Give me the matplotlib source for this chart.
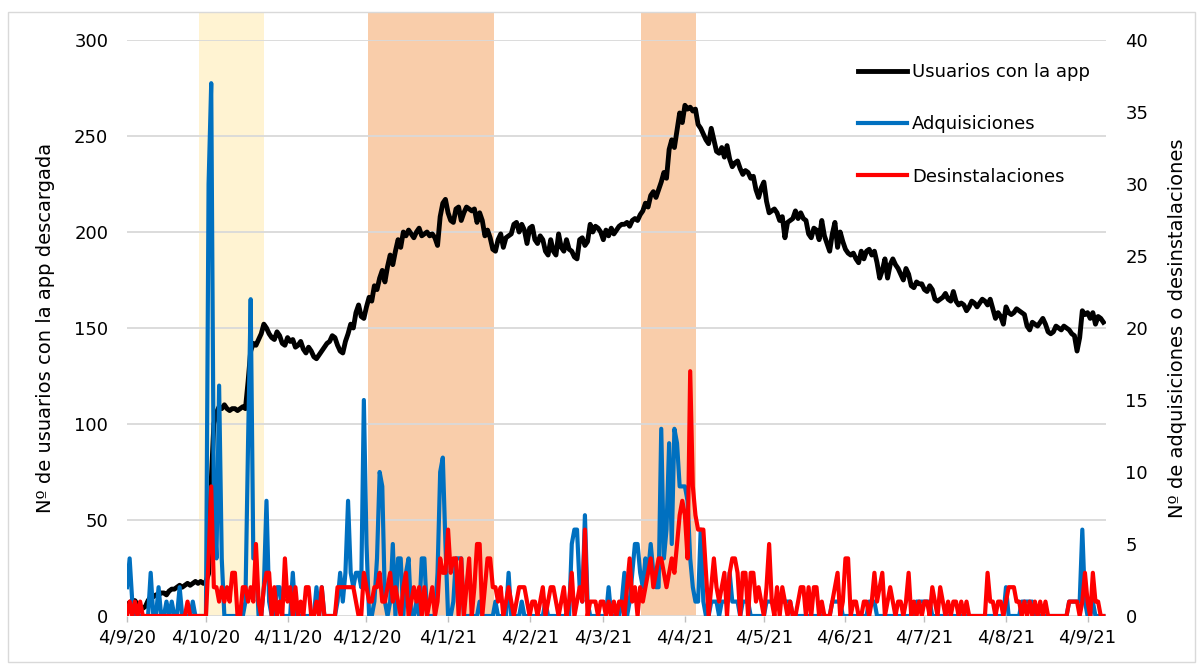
import matplotlib
matplotlib.use('Agg')
import matplotlib.pyplot as plt
from matplotlib.patches import Rectangle
import numpy as np

# ---------------- data ----------------
start_date = '2020-09-04'

usuarios = [
    6, 7, 8, 8, 6, 5, 4,
    5, 8, 10, 10, 11, 11, 12,
    12, 11, 13, 14, 14, 15, 16,
    15, 16, 17, 16, 17, 18, 17,
    18, 17, 18, 22, 70, 100, 106,
    109, 108, 110, 108, 107, 108, 108,
    107, 108, 109, 108, 122, 138, 142,
    141, 144, 147, 152, 150, 147, 145,
    144, 148, 146, 142, 141, 145, 143,
    144, 140, 141, 143, 139, 137, 140,
    138, 135, 134, 136, 138, 140, 142,
    143, 146, 145, 141, 138, 137, 143,
    147, 152, 150, 158, 162, 156, 155,
    161, 166, 164, 172, 170, 176, 180,
    174, 182, 188, 183, 190, 196, 192,
    200, 198, 201, 199, 197, 200, 202,
    198, 199, 200, 198, 199, 197, 193,
    208, 215, 217, 210, 206, 205, 212,
    213, 206, 210, 213, 212, 211, 212,
    205, 210, 206, 198, 201, 197, 191,
    190, 196, 199, 192, 197, 198, 199,
    204, 205, 200, 204, 201, 194, 202,
    203, 196, 194, 198, 196, 190, 188,
    196, 190, 188, 199, 192, 190, 196,
    191, 190, 187, 186, 196, 197, 193,
    195, 204, 200, 203, 202, 200, 196,
    201, 198, 202, 199, 201, 203, 204,
    204, 205, 203, 206, 207, 206, 209,
    211, 215, 213, 219, 221, 218, 222,
    226, 231, 228, 243, 248, 244, 253,
    262, 257, 266, 264, 265, 263, 264,
    256, 254, 251, 248, 246, 254, 248,
    242, 241, 244, 239, 245, 238, 234,
    236, 237, 233, 230, 232, 231, 228,
    229, 222, 218, 223, 226, 216, 210,
    211, 212, 210, 206, 208, 197, 205,
    206, 207, 211, 207, 210, 207, 206,
    199, 197, 202, 201, 196, 206, 198,
    194, 190, 199, 205, 192, 200, 195,
    191, 189, 188, 189, 186, 184, 190,
    186, 190, 191, 188, 190, 184, 176,
    180, 186, 176, 183, 186, 183, 181,
    178, 175, 181, 178, 172, 171, 174,
    173, 173, 170, 169, 172, 170, 165,
    164, 165, 166, 168, 165, 164, 169,
    164, 162, 163, 162, 159, 161, 164,
    163, 161, 163, 165, 164, 162, 165,
    160, 155, 158, 156, 152, 161, 158,
    157, 158, 160, 159, 158, 157, 151,
    149, 153, 152, 151, 153, 155, 152,
    148, 147, 148, 151, 150, 149, 151,
    150, 149, 147, 146, 138, 145, 159,
    157, 158, 155, 158, 152, 156, 155,
    153,
]

adquisiciones = [
    2, 4, 1, 0, 0, 0, 0,
    0, 0, 3, 0, 0, 2, 0,
    0, 1, 0, 1, 0, 0, 2,
    0, 0, 0, 0, 1, 0, 0,
    0, 0, 0, 30, 37, 8, 4,
    16, 4, 0, 0, 0, 0, 0,
    0, 0, 0, 1, 12, 22, 4,
    4, 0, 0, 2, 8, 1, 0,
    0, 2, 2, 0, 0, 0, 0,
    3, 0, 0, 0, 0, 0, 0,
    0, 0, 2, 0, 2, 0, 0,
    0, 0, 0, 1, 3, 1, 3,
    8, 3, 2, 3, 3, 2, 15,
    5, 0, 0, 1, 4, 10, 9,
    1, 0, 1, 5, 0, 4, 4,
    0, 3, 4, 0, 0, 1, 0,
    4, 4, 0, 0, 0, 0, 3,
    10, 11, 5, 0, 0, 1, 4,
    4, 4, 0, 0, 0, 0, 0,
    0, 1, 0, 0, 0, 0, 0,
    1, 0, 0, 0, 0, 3, 0,
    0, 0, 0, 1, 0, 0, 0,
    0, 0, 0, 0, 0, 1, 0,
    0, 0, 0, 0, 0, 0, 0,
    0, 5, 6, 6, 2, 1, 7,
    1, 0, 0, 0, 0, 0, 0,
    0, 2, 0, 0, 0, 0, 1,
    3, 0, 1, 3, 5, 5, 3,
    2, 4, 3, 5, 3, 2, 2,
    13, 4, 6, 12, 5, 13, 12,
    9, 9, 9, 8, 4, 2, 1,
    1, 6, 1, 0, 0, 1, 1,
    1, 0, 1, 1, 1, 3, 1,
    1, 1, 0, 1, 1, 1, 0,
    0, 0, 0, 0, 0, 1, 1,
    1, 1, 1, 1, 1, 1, 1,
    1, 0, 0, 0, 0, 0, 0,
    0, 0, 0, 0, 0, 0, 0,
    0, 0, 1, 1, 1, 1, 0,
    0, 0, 0, 0, 0, 0, 0,
    0, 0, 1, 1, 1, 0, 0,
    0, 0, 0, 0, 0, 0, 0,
    0, 0, 0, 0, 0, 0, 1,
    1, 1, 1, 1, 1, 0, 0,
    0, 0, 0, 0, 0, 0, 0,
    0, 0, 0, 0, 0, 0, 0,
    0, 0, 0, 0, 0, 0, 0,
    0, 0, 0, 0, 0, 2, 0,
    0, 0, 0, 0, 1, 1, 1,
    1, 1, 0, 0, 0, 0, 0,
    0, 0, 0, 0, 0, 0, 0,
    0, 1, 1, 1, 1, 1, 6,
    1, 0, 0, 1, 0, 0, 0,
    0,
]

desinstalaciones = [
    0, 1, 0, 1, 0, 1, 0,
    0, 0, 0, 0, 0, 0, 0,
    0, 0, 0, 0, 0, 0, 0,
    0, 0, 1, 0, 0, 0, 0,
    0, 0, 0, 4, 9, 2, 2,
    1, 2, 1, 2, 1, 3, 3,
    0, 0, 2, 2, 1, 2, 1,
    5, 1, 0, 2, 3, 3, 0,
    2, 0, 1, 0, 4, 1, 2,
    0, 2, 0, 1, 0, 2, 2,
    0, 0, 1, 0, 2, 0, 0,
    0, 0, 0, 2, 2, 2, 2,
    2, 2, 2, 1, 0, 0, 3,
    2, 1, 1, 2, 2, 3, 1,
    1, 2, 3, 1, 2, 1, 0,
    2, 3, 0, 1, 2, 1, 2,
    0, 2, 0, 1, 2, 0, 1,
    4, 3, 3, 6, 3, 4, 4,
    0, 4, 0, 2, 4, 0, 2,
    5, 5, 0, 2, 4, 4, 2,
    2, 1, 2, 0, 1, 2, 1,
    0, 1, 2, 2, 2, 1, 0,
    1, 1, 0, 1, 2, 0, 1,
    2, 2, 1, 0, 1, 2, 0,
    1, 3, 0, 1, 2, 1, 6,
    0, 1, 1, 1, 0, 1, 1,
    0, 1, 0, 1, 0, 1, 1,
    0, 2, 4, 1, 2, 0, 2,
    1, 2, 3, 4, 2, 3, 4,
    4, 3, 2, 3, 4, 3, 5,
    7, 8, 7, 4, 17, 9, 7,
    6, 6, 6, 3, 0, 2, 4,
    2, 1, 2, 3, 0, 3, 4,
    4, 3, 0, 3, 3, 0, 3,
    3, 1, 2, 1, 0, 2, 5,
    1, 0, 2, 0, 2, 1, 0,
    1, 0, 0, 1, 2, 2, 0,
    2, 0, 2, 2, 0, 1, 0,
    0, 0, 1, 2, 3, 0, 1,
    4, 4, 0, 1, 1, 0, 0,
    1, 1, 0, 1, 3, 1, 2,
    3, 0, 1, 2, 1, 0, 1,
    1, 0, 1, 3, 0, 1, 0,
    1, 0, 1, 1, 0, 2, 1,
    0, 2, 1, 0, 1, 0, 1,
    1, 0, 1, 0, 1, 0, 0,
    0, 0, 0, 0, 0, 3, 1,
    1, 0, 1, 1, 0, 1, 2,
    2, 2, 1, 1, 0, 1, 0,
    1, 0, 1, 0, 1, 0, 1,
    0, 0, 0, 0, 0, 0, 0,
    0, 1, 1, 1, 1, 0, 1,
    3, 1, 0, 3, 1, 1, 0,
    0,
]

tick_dates = ['2020-09-04', '2020-10-04', '2020-11-04', '2020-12-04',
              '2021-01-04', '2021-02-04', '2021-03-04', '2021-04-04',
              '2021-05-04', '2021-06-04', '2021-07-04', '2021-08-04',
              '2021-09-04']
tick_labels = ['4/9/20', '4/10/20', '4/11/20', '4/12/20', '4/1/21', '4/2/21',
               '4/3/21', '4/4/21', '4/5/21', '4/6/21', '4/7/21', '4/8/21',
               '4/9/21']

period_starts = ['2020-10-01T10:00', '2020-12-04T14:00', '2021-03-18T07:00']
period_ends = ['2020-10-26T00:00', '2021-01-21T10:00', '2021-04-08T05:00']
period_colors = ['#FFF3D2', '#F9CDAA', '#F9CDAA']

left_ticks = [0, 50, 100, 150, 200, 250, 300]
right_ticks = [0, 5, 10, 15, 20, 25, 30, 35, 40]

series_names = ['Usuarios con la app', 'Adquisiciones', 'Desinstalaciones']

# ---------------- figure ----------------
plt.rcParams['font.family'] = ['DejaVu Sans']
W, H = 1200, 664
fig = plt.figure(figsize=(W / 100, H / 100), dpi=100)

# light chart-area border
fig.patches.append(Rectangle((8 / W, 2 / H), 1187 / W, 650 / H,
                             transform=fig.transFigure, fill=False,
                             edgecolor='#D9D9D9', lw=1.0))

ax = fig.add_axes([127 / W, 48 / H, 979 / W, 576 / H])
ax2 = ax.twinx()

dates = np.datetime64(start_date) + np.arange(len(usuarios)).astype('timedelta64[D]')

for s, e, c in zip(period_starts, period_ends, period_colors):
    ax.axvspan(np.datetime64(s), np.datetime64(e), ymin=0, ymax=1.048,
               color=c, lw=0, zorder=0, clip_on=False)

for v in left_ticks:
    ax.axhline(v, color='#D9D9D9', lw=1.3, zorder=1)

l1, = ax.plot(dates, usuarios, color='black', lw=3.5, zorder=3,
              solid_joinstyle='round')
l2, = ax2.plot(dates, adquisiciones, color='#0070C0', lw=3.0, zorder=3,
               solid_joinstyle='round')
l3, = ax2.plot(dates, desinstalaciones, color='#FF0000', lw=3.0, zorder=4,
               solid_joinstyle='round')

ax.set_ylim(0, 300)
ax2.set_ylim(0, 40)
ax.set_xlim(np.datetime64(start_date), np.datetime64(start_date) + np.timedelta64(372, 'D'))

ax.set_xticks([np.datetime64(d) for d in tick_dates])
ax.set_xticklabels(tick_labels)
ax.set_yticks(left_ticks)
ax2.set_yticks(right_ticks)

for a in (ax, ax2):
    for sp in a.spines.values():
        sp.set_visible(False)
    a.patch.set_visible(False)

ax.tick_params(axis='x', length=4, width=1, color='#BFBFBF', pad=5,
               labelsize=13, labelcolor='black')
ax.tick_params(axis='y', length=0, pad=13.5, labelsize=13, labelcolor='black')
ax2.tick_params(axis='y', length=0, pad=14, labelsize=13, labelcolor='black')

ax.set_ylabel('Nº de usuarios con la app descargada', fontsize=14)
ax.yaxis.set_label_coords(-0.0735, 0.5)
ax2.set_ylabel('Nº de adquisiciones o desinstalaciones', fontsize=14,
               rotation=90)
ax2.yaxis.set_label_coords(1.063, 0.5)

fig.legend([l1, l2, l3], series_names, loc='upper left',
           bbox_to_anchor=(858 / W, 1 - 63 / H), frameon=False,
           handlelength=2.7, handletextpad=0.3, labelspacing=1.9,
           fontsize=13, borderpad=0, borderaxespad=0)

fig.savefig('out.png', dpi=100)
